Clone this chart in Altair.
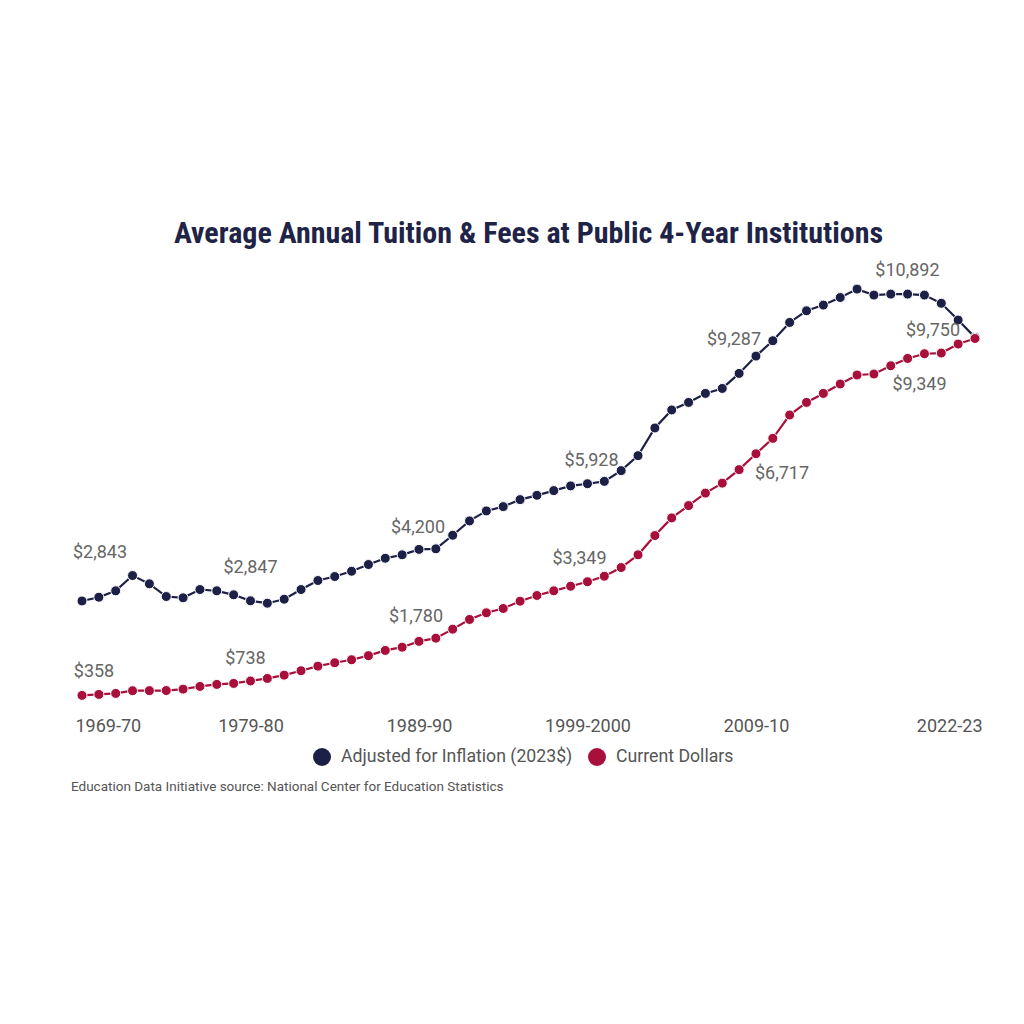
import altair as alt
import pandas as pd

# Academic years, 1969-70 through 2022-23
YEARS = [
    "1969-70", "1970-71", "1971-72", "1972-73", "1973-74", "1974-75", "1975-76",
    "1976-77", "1977-78", "1978-79", "1979-80", "1980-81", "1981-82", "1982-83",
    "1983-84", "1984-85", "1985-86", "1986-87", "1987-88", "1988-89", "1989-90",
    "1990-91", "1991-92", "1992-93", "1993-94", "1994-95", "1995-96", "1996-97",
    "1997-98", "1998-99", "1999-2000", "2000-01", "2001-02", "2002-03", "2003-04",
    "2004-05", "2005-06", "2006-07", "2007-08", "2008-09", "2009-10", "2010-11",
    "2011-12", "2012-13", "2013-14", "2014-15", "2015-16", "2016-17", "2017-18",
    "2018-19", "2019-20", "2020-21", "2021-22", "2022-23",
]

# Average tuition & fees, constant 2023 dollars
ADJUSTED = [
    2843, 2942, 3110, 3512, 3294, 2960, 2926, 3144, 3110, 3005,
    2847, 2784, 2889, 3144, 3381, 3486, 3625, 3802, 3967, 4057,
    4200, 4215, 4572, 4950, 5213, 5326, 5510, 5623, 5747, 5871,
    5928, 5991, 6273, 6667, 7395, 7869, 8068, 8305, 8436, 8831,
    9287, 9691, 10172, 10479, 10629, 10829, 11050, 10892, 10918, 10918,
    10892, 10676, 10235, 9780,
]

# Average tuition & fees, current dollars
CURRENT = [
    358, 384, 410, 481, 483, 485, 523, 594, 647, 673,
    738, 804, 891, 1007, 1128, 1217, 1296, 1404, 1541, 1627,
    1780, 1864, 2101, 2356, 2532, 2645, 2837, 2987, 3110, 3231,
    3349, 3494, 3723, 4057, 4564, 5029, 5353, 5681, 5944, 6299,
    6717, 7122, 7737, 8068, 8305, 8552, 8789, 8815, 9033, 9225,
    9349, 9367, 9604, 9750,
]

SERIES = ["Adjusted for Inflation (2023$)", "Current Dollars"]
COLORS = ["#1c2046", "#a80f3b"]
TICK_YEARS = ["1969-70", "1979-80", "1989-90", "1999-2000", "2009-10", "2022-23"]

# Label placement relative to its point (dx, dy in px)
NUDGE = {
    (SERIES[0], "1969-70"): (18, -48),
    (SERIES[0], "1979-80"): (0, -33),
    (SERIES[0], "1989-90"): (-1, -21),
    (SERIES[0], "1999-2000"): (4, -23),
    (SERIES[0], "2009-10"): (-22, -16),
    (SERIES[0], "2019-20"): (-17, -24),
    (SERIES[1], "1969-70"): (12, -23),
    (SERIES[1], "1979-80"): (-5, -22),
    (SERIES[1], "1989-90"): (-3, -24),
    (SERIES[1], "1999-2000"): (-8, -23),
    (SERIES[1], "2009-10"): (26, 20),
    (SERIES[1], "2019-20"): (-5, 31),
    (SERIES[1], "2022-23"): (-42, -8),
}

TITLE_FONT = "Roboto Condensed, Liberation Sans Narrow, Roboto, sans-serif"
FONT = "Roboto, Noto Sans, sans-serif"

df = pd.concat(
    [
        pd.DataFrame({"year": YEARS, "value": ADJUSTED, "series": SERIES[0]}),
        pd.DataFrame({"year": YEARS, "value": CURRENT, "series": SERIES[1]}),
    ],
    ignore_index=True,
)

x = alt.X(
    "year:O",
    sort=YEARS,
    scale=alt.Scale(type="point", padding=0),
    axis=alt.Axis(
        values=TICK_YEARS,
        labelAngle=0,
        labelFlush=True,
        labelFlushOffset=7,
        ticks=False,
        domain=False,
        grid=False,
        title=None,
        labelFont=FONT,
        labelFontSize=18,
        labelColor="#555555",
        labelPadding=8,
    ),
)
y = alt.Y("value:Q", scale=alt.Scale(domain=[0, 12000]), axis=None)
color_scale = alt.Scale(domain=SERIES, range=COLORS)
legend = alt.Legend(
    title=None,
    orient="none",
    legendX=231,
    legendY=495,
    direction="horizontal",
    symbolType="circle",
    symbolSize=324,
    symbolStrokeWidth=0,
    symbolOpacity=1,
    labelFont=FONT,
    labelFontSize=17.7,
    labelColor="#555555",
    labelLimit=0,
    labelOffset=10,
    columnPadding=15,
)
color = alt.Color("series:N", scale=color_scale, legend=legend)

base = alt.Chart(df)

lines = base.mark_line(strokeWidth=2.2).encode(x=x, y=y, color=color)

dots = base.mark_circle(size=100, opacity=1, stroke="white", strokeWidth=1).encode(
    x=x, y=y, color=color
)

label_layers = []
for (series, year), (dx, dy) in NUDGE.items():
    label_layers.append(
        base.transform_filter(
            (alt.datum.series == series) & (alt.datum.year == year)
        )
        .transform_calculate(label="format(datum.value, '$,')")
        .mark_text(
            dx=dx,
            dy=dy,
            align="center",
            baseline="middle",
            font=FONT,
            fontSize=18,
            color="#666666",
        )
        .encode(x=x, y=y, text="label:N")
    )

source = alt.Chart(
    pd.DataFrame({"t": ["Education Data Initiative source: National Center for Education Statistics"]})
).mark_text(
    align="left", baseline="middle", font=FONT, fontSize=13.5, color="#555555"
).encode(x=alt.value(-11), y=alt.value(534), text="t:N")

chart = (
    alt.layer(lines, dots, *label_layers, source)
    .properties(
        width=893,
        height=456,
        padding={"left": 71, "top": 219, "right": 10, "bottom": 10},
        title=alt.TitleParams(
            "Average Annual Tuition & Fees at Public 4-Year Institutions",
            font=TITLE_FONT,
            fontSize=30,
            fontWeight="bold",
            color="#1f2447",
            anchor="middle",
            offset=4,
        ),
    )
    .configure_view(stroke=None)
)

chart.save("out.html", embed_options={"renderer": "svg", "actions": False})
